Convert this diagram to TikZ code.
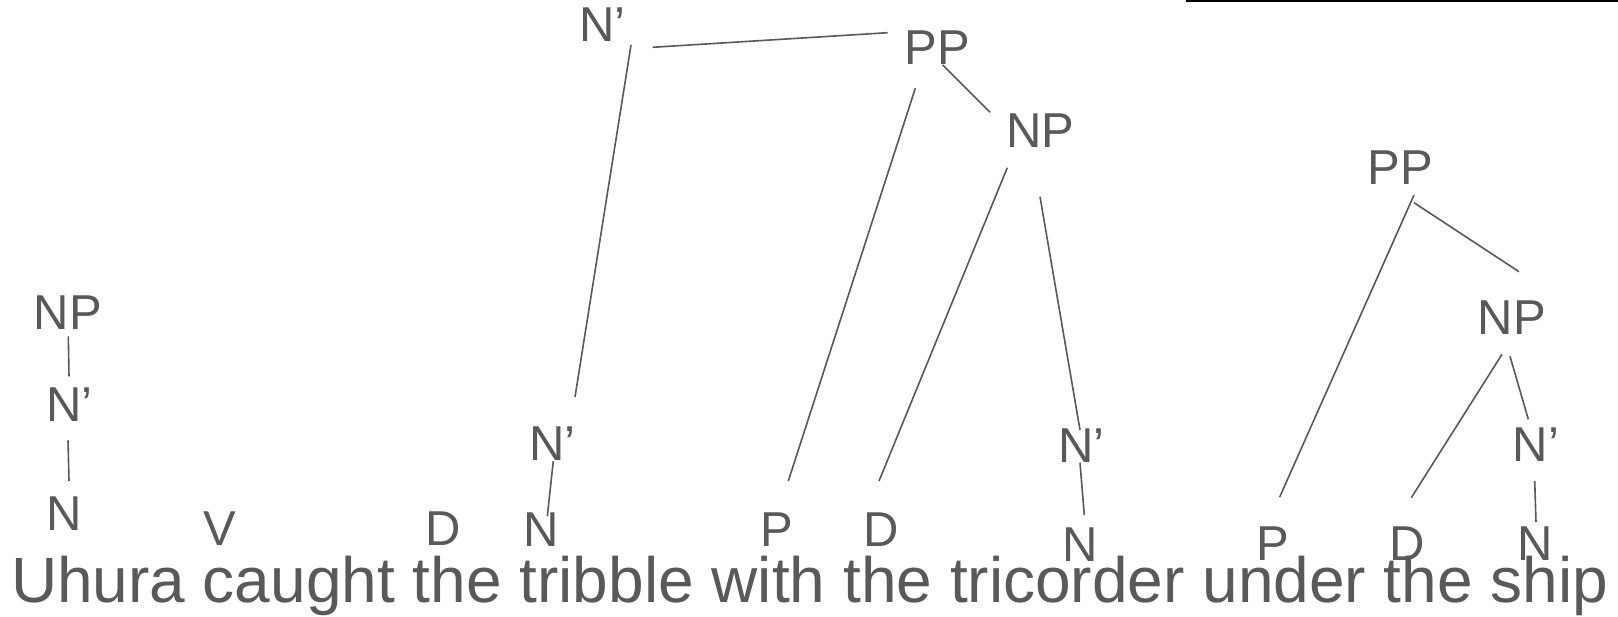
\documentclass[tikz,border=0pt]{standalone}
\usepackage{fontspec}
\setmainfont{Liberation Sans}
\usetikzlibrary{calc}
\definecolor{ink}{HTML}{595959}
\tikzset{
  lbl/.style={inner sep=0pt, outer sep=0pt, anchor=base, text=ink, font=\fontsize{49}{49}\selectfont},
  sent/.style={inner sep=0pt, outer sep=0pt, anchor=base west, text=ink, font=\fontsize{64}{64}\selectfont},
  edge/.style={draw=ink, line width=1.6pt}
}
\begin{document}
\begin{tikzpicture}[x=1pt, y=-1pt]
\useasboundingbox (0,0) rectangle (1618,617);
\fill[white] (0,0) rectangle (1618,617);
\fill[black] (1186,0) rectangle (1618,2.3);
% labels
\node[lbl] (npA) at (68,330) {NP};
\node[lbl] (nbA) at (69.3,422) {N’};
\node[lbl] (nA) at (63.8,530) {N};
\node[lbl] (vA) at (220.3,545) {V};
\node[lbl] (dA) at (443.3,545.5) {D};
\node[lbl] (nB) at (541.2,546) {N};
\node[lbl] (nbB) at (552.2,461) {N’};
\node[lbl] (nbTop) at (602.5,42) {N’};
\node[lbl] (ppA) at (937.3,65) {PP};
\node[lbl] (npB) at (1040.5,148) {NP};
\node[lbl] (pA) at (776.7,546) {P};
\node[lbl] (dB) at (881.3,546) {D};
\node[lbl] (nbC) at (1081.7,463) {N’};
\node[lbl] (nC) at (1080.4,561.5) {N};
\node[lbl] (ppB) at (1400.3,185) {PP};
\node[lbl] (npC) at (1511.9,335) {NP};
\node[lbl] (nbD) at (1536,462) {N’};
\node[lbl] (pB) at (1272.8,560) {P};
\node[lbl] (dC) at (1407.5,560) {D};
\node[lbl] (nD) at (1534.9,560) {N};
\node[sent] (sentence) at (11,602) {Uhura caught the tribble with the tricorder under the ship};
% connectors
\draw[edge] ($(nbTop.base)+(50.2,5.3)$) -- ($(ppA.base)+(-49.6,-32.3)$);
\draw[edge] ($(nbTop.base)+(28.5,3)$) -- ($(nbB.base)+(22.8,-64)$);
\draw[edge] ($(ppA.base)+(5.4,0)$) -- ($(npB.base)+(-50.5,-35.7)$);
\draw[edge] ($(ppA.base)+(-22,23.3)$) -- ($(pA.base)+(11.6,-65)$);
\draw[edge] ($(npB.base)+(-33.2,19.7)$) -- ($(dB.base)+(-2.3,-65)$);
\draw[edge] ($(npB.base)+(-0.5,48.7)$) -- ($(nbC.base)+(-1.7,-33)$);
\draw[edge] ($(nbC.base)+(-1.7,-0.3)$) -- ($(nC.base)+(3.9,-46.5)$);
\draw[edge] ($(nbB.base)+(1.1,0)$) -- ($(nB.base)+(6.1,-29.7)$);
\draw[edge] ($(npA.base)+(0.3,6.3)$) -- ($(nbA.base)+(-0.3,-45.7)$);
\draw[edge] ($(nbA.base)+(-1.3,18.3)$) -- ($(nA.base)+(5.2,-49)$);
\draw[edge] ($(ppB.base)+(13.7,10)$) -- ($(pB.base)+(6.9,-63)$);
\draw[edge] ($(ppB.base)+(13.7,17.7)$) -- ($(npC.base)+(7.1,-63.3)$);
\draw[edge] ($(npC.base)+(-9.9,19.3)$) -- ($(dC.base)+(3.8,-62.3)$);
\draw[edge] ($(npC.base)+(-1.9,21.3)$) -- ($(nbD.base)+(-7.7,-42.7)$);
\draw[edge] ($(nbD.base)+(-1.3,19)$) -- ($(nD.base)+(1.1,-38)$);
\end{tikzpicture}
\end{document}
